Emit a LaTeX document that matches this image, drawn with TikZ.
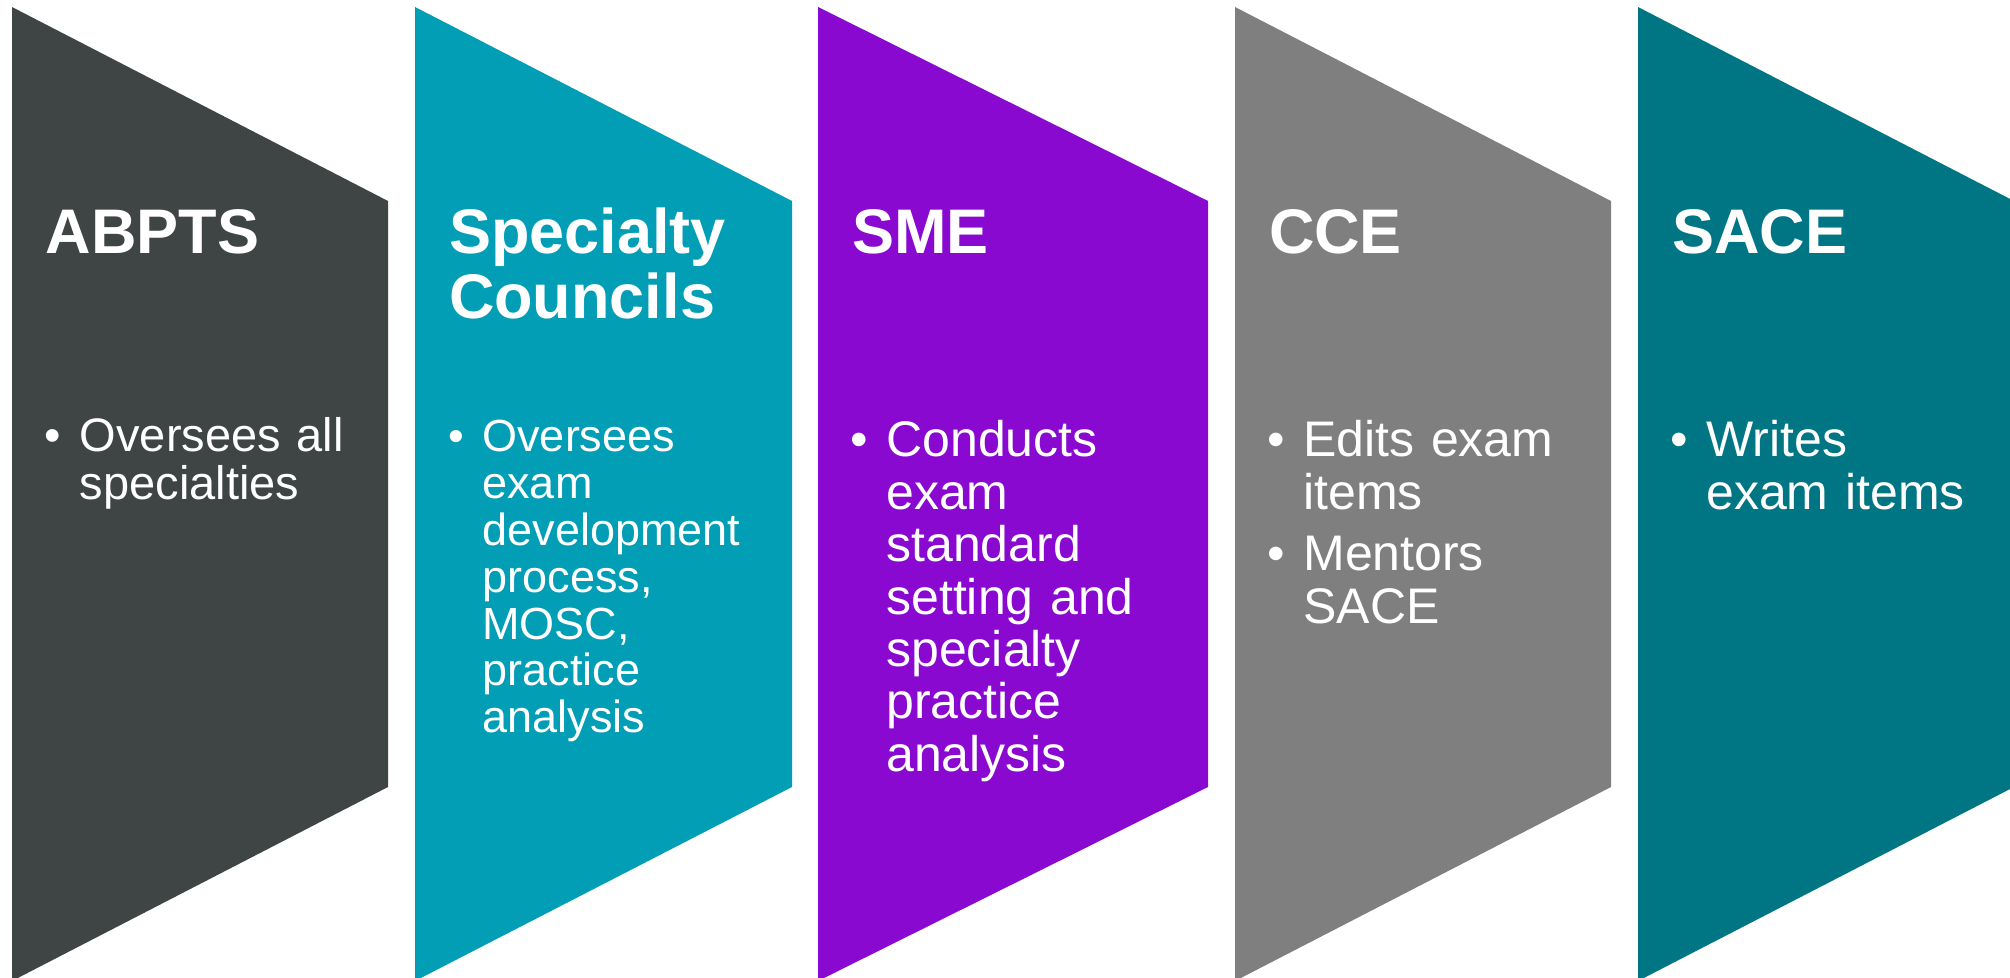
\documentclass[tikz,border=0pt]{standalone}
\usepackage{fontspec}
\setmainfont{Liberation Sans}
\usetikzlibrary{positioning}
\definecolor{slate}{HTML}{3F4444}
\definecolor{council}{HTML}{029EB6}
\definecolor{smepurple}{HTML}{8909D0}
\definecolor{ccegray}{HTML}{7F7F7F}
\definecolor{sacedark}{HTML}{007584}

\begin{document}
\begin{tikzpicture}[x=0.5pt,y=-0.5pt,node distance=9.3pt,
  every node/.style = {text=white, inner sep=0pt, outer sep=0pt},
  head/.style = {anchor=base west, text width=180pt, align=left,
    font=\fontsize{31.5pt}{32.5pt}\selectfont\bfseries},
  bullet/.style = {anchor=base},
  bodytext/.style = {text width=160pt, align=left},
  big/.style = {font=\fontsize{25pt}{26.2pt}\selectfont},
  mid/.style = {font=\fontsize{23.5pt}{24pt}\selectfont},
  small/.style = {font=\fontsize{22.5pt}{23.4pt}\selectfont}
  ]
  \useasboundingbox (0,0) rectangle (2010,978);
  \clip (0,0) rectangle (2010,978);

  % the five panels
  \foreach \l/\r/\c in {12/388/slate, 415/792/council, 818/1208/smepurple,
      1235/1611/ccegray, 1638/2014/sacedark}
    \fill[\c] (\l,7) -- (\r,201) -- (\r,787) -- (\l,981) -- cycle;

  % headings
  \node[head] (abpts) at (46,254) {ABPTS};
  \node[head] (councils) at (449,254) {Specialty\\Councils};
  \node[head] (sme) at (852,254) {SME};
  \node[head] (cce) at (1269,254) {CCE};
  \node[head] (sace) at (1672,254) {SACE};

  % bullet points
  \node[bullet,mid] (abptsdot) at (53,452) {•};
  \node[bodytext,mid,base right=of abptsdot] (abptsitem) {Oversees all\\specialties};

  \node[bullet,small] (councilsdot) at (456,452) {•};
  \node[bodytext,small,base right=of councilsdot] (councilsitem)
    {Oversees\\exam\\development\\process,\\MOSC,\\practice\\analysis};

  \node[bullet,big] (smedot) at (859,457) {•};
  \node[bodytext,big,base right=of smedot] (smeitem)
    {Conducts\\exam\\standard\\setting and\\specialty\\practice\\analysis};

  \node[bullet,big] (ccedot) at (1276,457) {•};
  \node[bodytext,big,base right=of ccedot] (cceitem) {Edits exam\\items};
  \node[bullet,big] (ccedottwo) at (1276,571) {•};
  \node[bodytext,big,base right=of ccedottwo] (cceitemtwo) {Mentors\\SACE};

  \node[bullet,big] (sacedot) at (1679,457) {•};
  \node[bodytext,big,base right=of sacedot] (saceitem) {Writes\\exam items};
\end{tikzpicture}
\end{document}
